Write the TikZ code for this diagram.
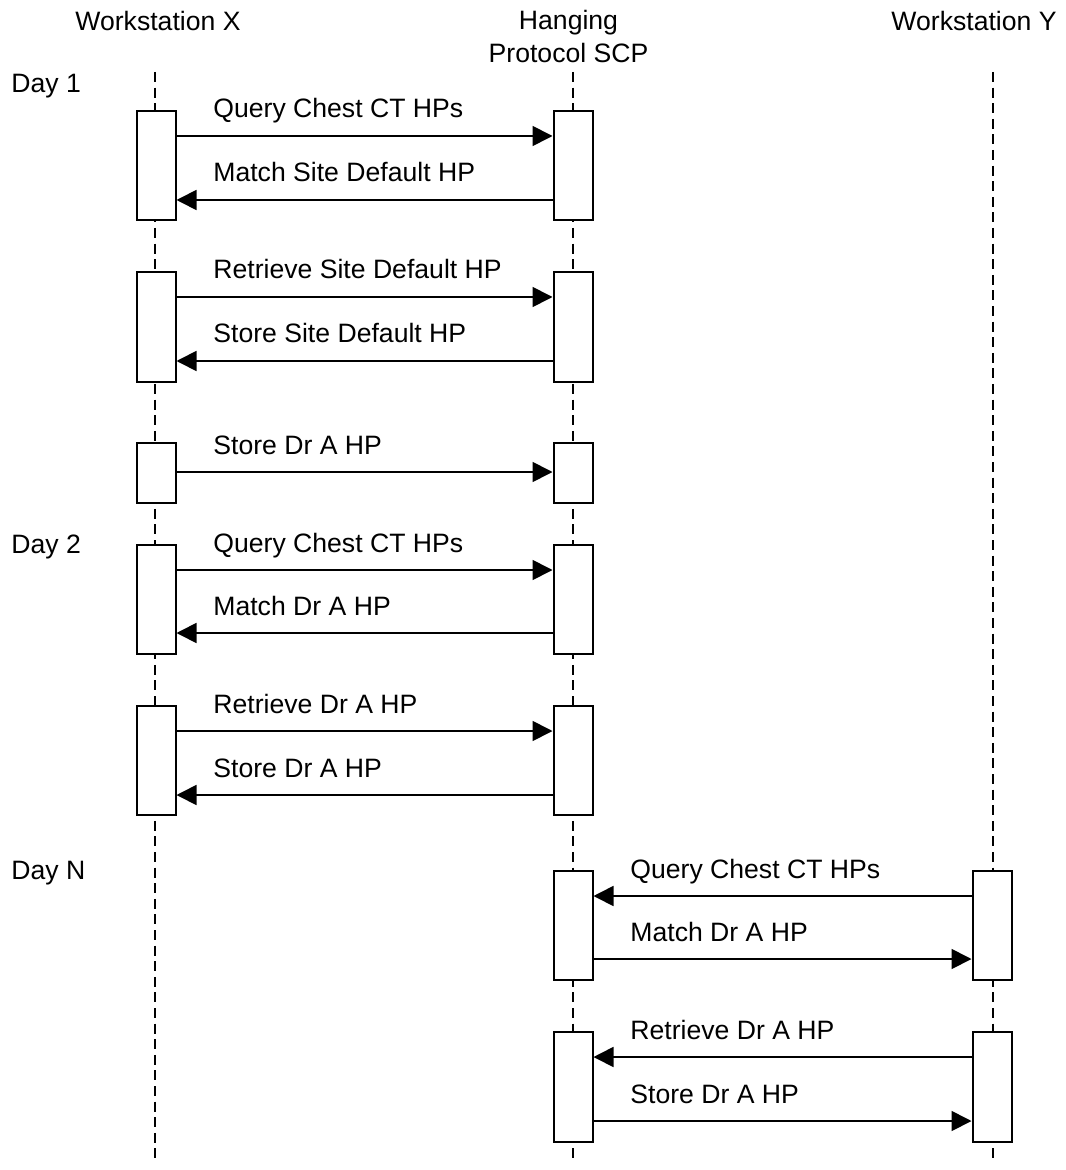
\documentclass[tikz,border=0pt]{standalone}
\usepackage{fontspec}
\setmainfont{Liberation Sans}
\usetikzlibrary{arrows.meta, fit}

\begin{document}
\begin{tikzpicture}[x=0.5pt, y=-0.5pt, font=\fontsize{13.3}{16.5}\selectfont,
    lifeline/.style={dash pattern=on 5pt off 2.8pt, line width=0.65pt},
    actbox/.style={draw, fill=white, line width=1pt, inner sep=0pt},
    msg/.style={line width=0.85pt, -{Triangle[length=10pt, width=10pt]}},
    msglabel/.style={anchor=base west, inner sep=0pt}]
\useasboundingbox (0,0) rectangle (1065,1170);
% participants
\node[anchor=base] (wx) at (158,31) {Workstation X};
\node[anchor=base, align=center] (scp) at (568.5,63) {Hanging\\Protocol SCP};
\node[anchor=base] (wy) at (974,31) {Workstation Y};
\foreach \p/\x in {wx/155, scp/573, wy/993} {
    \coordinate (\p top) at (\x,72);
    \coordinate (\p bot) at (\x,1160);
    \draw[lifeline] (\p top) -- (\p bot);
}
% days
\node[anchor=base west, inner sep=0pt] (day1) at (11,93) {Day 1};
\node[anchor=base west, inner sep=0pt] (day2) at (11,553) {Day 2};
\node[anchor=base west, inner sep=0pt] (dayn) at (11,879) {Day N};
% activation boxes
\foreach \name/\x/\t/\b in {%
    x1/156/111/220, s1/573/111/220,
    x2/156/272/382, s2/573/272/382,
    x3/156/443/503, s3/573/443/503,
    x4/156/545/654, s4/573/545/654,
    x5/156/706/815, s5/573/706/815,
    s6/573/871/980, y6/992/871/980,
    s7/573/1032/1142, y7/992/1032/1142
} {
    \node[actbox, fit={(\x-19.5,\t) (\x+19.5,\b)}] (\name) {};
}
% messages
\foreach \y/\a/\b/\lx/\txt in {%
    136/x1.east/s1.west/213/Query Chest CT HPs,
    200/s1.west/x1.east/213/Match Site Default HP,
    297/x2.east/s2.west/213/Retrieve Site Default HP,
    361/s2.west/x2.east/213/Store Site Default HP,
    472/x3.east/s3.west/213/Store Dr A HP,
    570/x4.east/s4.west/213/Query Chest CT HPs,
    633/s4.west/x4.east/213/Match Dr A HP,
    731/x5.east/s5.west/213/Retrieve Dr A HP,
    795/s5.west/x5.east/213/Store Dr A HP,
    896/y6.west/s6.east/630/Query Chest CT HPs,
    959/s6.east/y6.west/630/Match Dr A HP,
    1057/y7.west/s7.east/630/Retrieve Dr A HP,
    1121/s7.east/y7.west/630/Store Dr A HP
} {
    \draw[msg] (\a |- 0,\y) -- (\b |- 0,\y);
    \node[msglabel] at (\lx,\y-18) {\txt};
}
\end{tikzpicture}
\end{document}
